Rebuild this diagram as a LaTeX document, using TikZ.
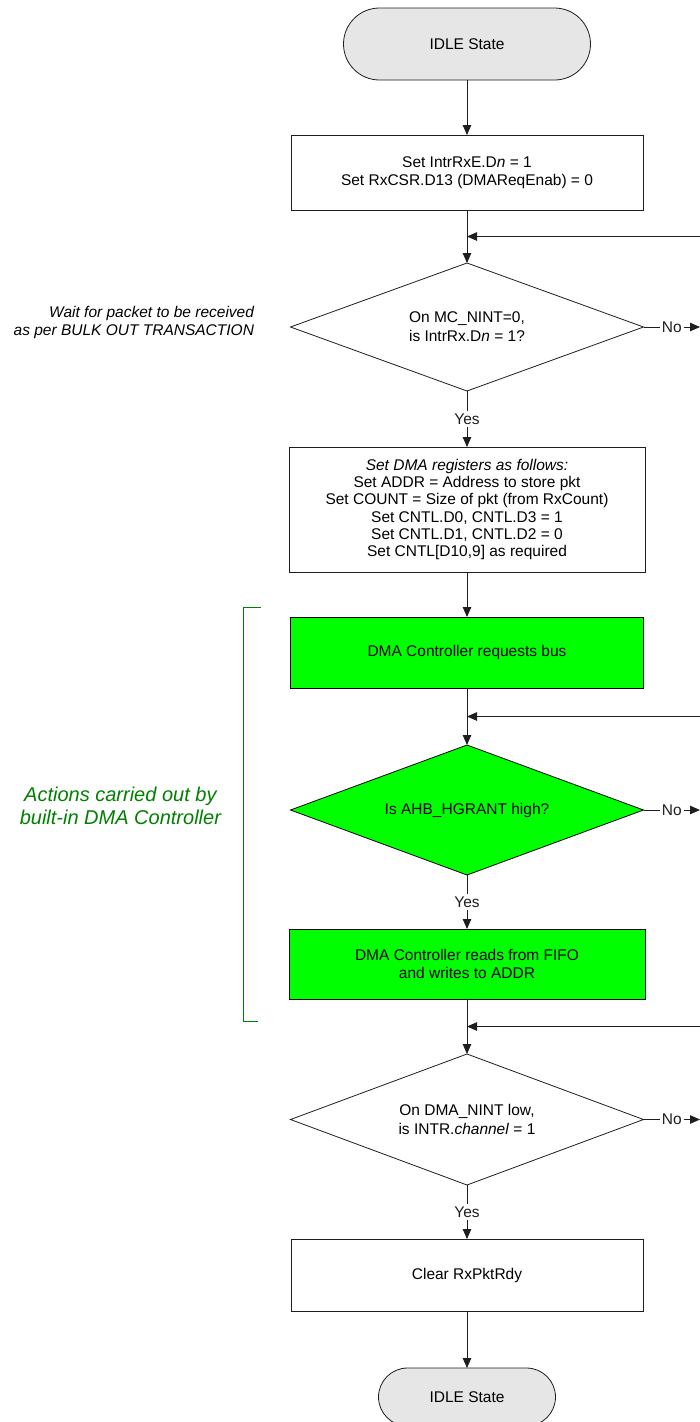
\documentclass[tikz,border=0pt]{standalone}
\usepackage{fontspec}
\setmainfont{Liberation Sans}
\usepackage{tikz}
\usepackage{xcolor}
\usetikzlibrary{positioning,arrows.meta,calc,shapes.geometric}
\definecolor{flowgray}{RGB}{230,230,230}
\definecolor{flowgreen}{RGB}{0,255,0}
\definecolor{notegreen}{RGB}{0,128,0}
\definecolor{flowline}{RGB}{30,30,30}
\tikzset{
  box/.style={draw=flowline, line width=0.8pt, outer sep=0pt, align=center, minimum width=352pt, font=\fontsize{15.5}{18.5}\selectfont},
  dmabox/.style={box, fill=flowgreen, draw=black},
  term/.style={draw=flowline, line width=0.8pt, outer sep=0pt, fill=flowgray, font=\fontsize{15.5}{18.5}\selectfont},
  decision/.style={diamond, aspect=2.75, draw=flowline, line width=0.8pt, outer sep=0pt, align=center, inner sep=0pt, minimum width=353pt, minimum height=129pt, font=\fontsize{15.5}{19}\selectfont},
  arrow/.style={-{Triangle[length=10pt,width=8.5pt]}, line width=0.8pt, flowline},
  lbl/.style={fill=white, inner sep=3pt, font=\fontsize{15.5}{18.5}\selectfont},
  note/.style={align=right, font=\fontsize{15.5}{18}\selectfont\itshape},
  dmanote/.style={align=center, text=notegreen, font=\fontsize{20}{23}\selectfont\itshape},
  bracket/.style={notegreen, line width=0.9pt}
}
\begin{document}
\begin{tikzpicture}[x=1pt, y=1pt, node distance=55pt]
    \clip (0,0) rectangle (700,-1422);
    \coordinate (edge) at (700,0);
    \node[term, minimum width=247pt, minimum height=72pt, rounded corners=36pt] (idle) at (467,-44) {IDLE State};
    \node[box, minimum height=75pt, below=55pt of idle] (enable) {Set IntrRxE.D\textit{n} = 1\\Set RxCSR.D13 (DMAReqEnab) = 0};
    \node[decision, minimum height=128pt, below=53pt of enable] (rxint) {On MC\_NINT=0,\\is IntrRx.D\textit{n} = 1?};
    \node[note, left=33pt of rxint.west, yshift=5pt] (waitnote) {Wait for packet to be received\\as per BULK OUT TRANSACTION};
    \node[box, minimum width=356pt, minimum height=125pt, below=56pt of rxint, font=\fontsize{15.5}{17.3}\selectfont] (dmaset) {\textit{Set DMA registers as follows:}\\Set ADDR = Address to store pkt\\Set COUNT = Size of pkt (from RxCount)\\Set CNTL.D0, CNTL.D3 = 1\\Set CNTL.D1, CNTL.D2 = 0\\Set CNTL[D10,9] as required};
    \node[dmabox, minimum width=353pt, minimum height=71pt, below=45pt of dmaset] (reqbus) {DMA Controller requests bus};
    \node[decision, fill=flowgreen, draw=black, minimum height=130pt, below=57pt of reqbus] (grant) {Is AHB\_HGRANT high?};
    \node[dmabox, minimum width=356pt, minimum height=70pt, below=54pt of grant] (fifo) {DMA Controller reads from FIFO\\and writes to ADDR};
    \node[decision, minimum height=131pt, below=55pt of fifo] (dmaint) {On DMA\_NINT low,\\is INTR.\textit{channel} = 1};
    \node[box, minimum height=72pt, below=54pt of dmaint] (clear) {Clear RxPktRdy};
    \node[term, minimum width=177pt, minimum height=58pt, rounded corners=29pt, below=57pt of clear] (idleend) {IDLE State};
    \node[dmanote, left=66pt of grant.west, yshift=4pt] (dmanotes) {Actions carried out by\\built-in DMA Controller};
    \coordinate (rxloop) at ($(enable.south)!0.5!(rxint.north)$);
    \coordinate (grantloop) at ($(reqbus.south)!0.5!(grant.north)$);
    \coordinate (intloop) at ($(fifo.south)!0.5!(dmaint.north)$);
    \draw[arrow] (idle) -- (enable);
    \draw[arrow] (enable) -- (rxint);
    \draw[arrow] (rxint) -- node[lbl] {Yes} (dmaset);
    \draw[arrow] (dmaset) -- (reqbus);
    \draw[arrow] (reqbus) -- (grant);
    \draw[arrow] (grant) -- node[lbl] {Yes} (fifo);
    \draw[arrow] (fifo) -- (dmaint);
    \draw[arrow] (dmaint) -- node[lbl] {Yes} (clear);
    \draw[arrow] (clear) -- (idleend);
    \draw[arrow] (rxint.east) -- node[lbl, inner sep=2pt] {No} (rxint.east -| edge);
    \draw[arrow] (grant.east) -- node[lbl, inner sep=2pt] {No} (grant.east -| edge);
    \draw[arrow] (dmaint.east) -- node[lbl, inner sep=2pt] {No} (dmaint.east -| edge);
    \draw[arrow] (rxloop -| edge) -- (rxloop);
    \draw[arrow] (grantloop -| edge) -- (grantloop);
    \draw[arrow] (intloop -| edge) -- (intloop);
    \draw[bracket] ($(reqbus.north west)+(-30,10)$) -| ($(fifo.south west)+(-46,-22)$) -- ++(15,0);
  \end{tikzpicture}
\end{document}
